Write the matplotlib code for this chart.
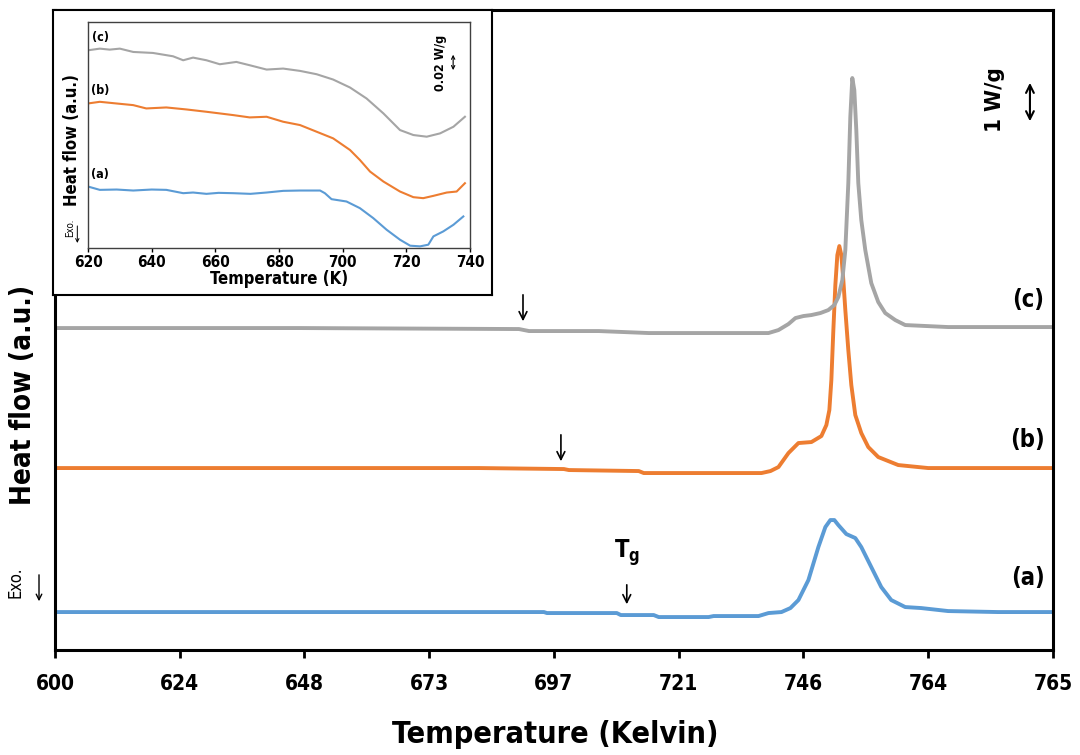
import numpy as np
import matplotlib
matplotlib.use('Agg')
import matplotlib.pyplot as plt

plt.rcParams['font.family'] = ['DejaVu Sans']
plt.rcParams['font.stretch'] = 'condensed'

# main curves (x: position along the tick scale, y: heat flow in arbitrary units)
tick_labels = ['600', '624', '648', '673', '697', '721', '746', '764', '765']

xa = [0, 490, 493, 563, 567, 600, 605, 655, 660, 705, 715, 728, 737, 745, 755, 765, 772, 777,
      781, 785, 793, 802, 808, 818, 828, 838, 852, 868, 895, 945, 998]
ya = [38, 38, 37, 37, 35, 35, 33, 33, 34, 34, 37, 38, 42, 50, 70, 103, 123, 130,
      130, 125, 116, 112, 103, 83, 63, 50, 43, 42, 39, 38, 38]

xb = [0, 425, 510, 515, 585, 590, 708, 717, 725, 735, 745, 758, 768, 773, 776, 778, 780, 782,
      784, 786, 788, 790, 792, 795, 798, 802, 808, 815, 825, 845, 875, 998]
yb = [182, 182, 181, 180, 179, 177, 177, 179, 183, 197, 207, 208, 214, 225, 240, 270, 320, 365,
      395, 404, 395, 370, 340, 300, 265, 235, 217, 203, 193, 185, 182, 182]

xc = [0, 245, 465, 475, 545, 595, 715, 725, 735, 742, 750, 758, 767, 775, 781, 785, 789, 792,
      795, 797, 799, 801, 803, 805, 808, 812, 818, 825, 832, 842, 852, 895, 998]
yc = [322, 322, 321, 319, 319, 317, 317, 320, 326, 332, 334, 335, 337, 340, 345, 353, 370, 400,
      467, 533, 572, 560, 520, 467, 430, 400, 367, 348, 337, 330, 325, 323, 323]

# inset curves (x: Temperature (K))
ia_x = [620, 623.7, 629, 634.2, 640, 644.6, 649.9, 653, 657.2, 661, 665.6, 671, 676.1, 681.3,
        686.6, 692.9, 694.4, 696.5, 701.2, 705.4, 709.6, 713.8, 718.0, 721.2, 724.3, 726.9,
        728.5, 731.6, 734.8, 737.9]
ia_y = [185, 175, 176, 173, 176, 175, 165, 167, 163, 166, 165, 163, 167, 172,
        173, 173, 165, 147, 140, 120, 90, 55, 25, 7, 5, 10,
        35, 50, 70, 95]

ib_x = [620, 623.7, 628.9, 634.2, 638.3, 644.6, 650.9, 657.2, 665.6, 670.8, 676.1, 681.3,
        686.6, 691.8, 697.0, 702.3, 705.4, 708.6, 712.8, 718.0, 722.2, 725.3, 728.5, 732.7,
        735.8, 738.4]
ib_y = [435, 440, 435, 430, 420, 423, 417, 410, 400, 393, 395, 380,
        370, 350, 330, 295, 265, 230, 200, 170, 153, 150, 157, 167,
        170, 195]

ic_x = [620, 623.7, 626.8, 630.0, 634.2, 640.4, 646.7, 649.9, 653.0, 657.2, 661.4, 666.6,
        670.8, 676.1, 681.3, 686.6, 691.8, 697.0, 702.3, 707.5, 712.8, 718.0, 722.2, 726.4,
        730.6, 734.8, 738.4]
ic_y = [595, 600, 597, 600, 590, 587, 577, 565, 573, 565, 553, 560,
        550, 537, 540, 533, 523, 507, 483, 450, 405, 355, 340, 335,
        345, 365, 395]

blue = '#5B9BD5'
orange = '#ED7D31'
grey = '#A5A5A5'

fig = plt.figure(figsize=(10.8, 7.55), dpi=100)
ax = fig.add_axes([0.0509, 0.139, 0.924, 0.8477])

ax.plot(xa, ya, color=blue, lw=2.8)
ax.plot(xb, yb, color=orange, lw=2.8)
ax.plot(xc, yc, color=grey, lw=2.8)

ax.set_xlim(0, 1000)
ax.set_ylim(0, 640)
ax.set_xticks(np.linspace(0, 1000, 9))
ax.set_xticklabels(tick_labels, fontsize=15, fontweight='bold')
ax.set_yticks([])
ax.tick_params(axis='x', direction='out', length=6, width=2, pad=11)
for s in ax.spines.values():
    s.set_linewidth(2.2)

# curve labels
for lab, yy in [('(c)', 350), ('(b)', 210), ('(a)', 72)]:
    ax.text(975, yy, lab, fontsize=17, fontweight='bold', ha='center', va='center')

# Tg arrows
arr = dict(arrowstyle='->', color='black', lw=1.2, mutation_scale=14)
ax.annotate('', xy=(469, 326), xytext=(469, 358), arrowprops=arr)
ax.annotate('', xy=(507, 186), xytext=(507, 218), arrowprops=arr)
ax.annotate('', xy=(573, 43), xytext=(573, 68), arrowprops=arr)
ax.text(573, 97, r'T$_\mathregular{g}$', fontsize=17, fontweight='bold', ha='center', va='center')

# scale bar
ax.text(942, 550, '1 W/g', fontsize=16, fontweight='bold', rotation=90, ha='center', va='center')
ax.annotate('', xy=(977, 570), xytext=(977, 526),
            arrowprops=dict(arrowstyle='<->', color='black', lw=1.5, mutation_scale=14))

# Exo. marker
ax.text(-40, 68, 'Exo.', fontsize=12, rotation=90, ha='center', va='center', clip_on=False)
ax.annotate('', xy=(-16, 46), xytext=(-16, 78), annotation_clip=False,
            arrowprops=dict(arrowstyle='->', color='black', lw=1.0, mutation_scale=10))

fig.text(0.021, 0.477, 'Heat flow (a.u.)', fontsize=20, fontweight='bold', rotation=90,
         ha='center', va='center')
fig.text(0.514, 0.027, 'Temperature (Kelvin)', fontsize=22, fontweight='bold',
         ha='center', va='center')

# inset frame
frame = fig.add_axes([0.049, 0.609, 0.4065, 0.3775])
frame.set_xticks([])
frame.set_yticks([])
frame.set_facecolor('white')
for s in frame.spines.values():
    s.set_linewidth(1.5)

ins = fig.add_axes([0.0815, 0.6715, 0.3537, 0.2993])
ins.plot(ia_x, ia_y, color=blue, lw=1.5)
ins.plot(ib_x, ib_y, color=orange, lw=1.5)
ins.plot(ic_x, ic_y, color=grey, lw=1.5)
ins.set_xlim(620, 740)
ins.set_ylim(0, 680)
ins.set_xticks(np.arange(620, 741, 20))
ins.set_xticklabels([str(t) for t in range(620, 741, 20)], fontsize=11, fontweight='bold')
ins.set_yticks([])
ins.tick_params(axis='x', direction='out', length=3, width=1, pad=2)
ins.set_xlabel('Temperature (K)', fontsize=12, fontweight='bold', labelpad=0)
for s in ins.spines.values():
    s.set_linewidth(1.0)
    s.set_color('#404040')

ins.text(-0.042, 0.478, 'Heat flow (a.u.)', transform=ins.transAxes, fontsize=12,
         fontweight='bold', rotation=90, ha='center', va='center')
ins.text(-0.048, 0.09, 'Exo.', transform=ins.transAxes, fontsize=7, rotation=90,
         ha='center', va='center')
ins.annotate('', xy=(-0.028, 0.01), xytext=(-0.028, 0.11), xycoords='axes fraction',
             annotation_clip=False,
             arrowprops=dict(arrowstyle='->', color='black', lw=0.7, mutation_scale=6))

for lab, yy in [('(c)', 634), ('(b)', 475), ('(a)', 220)]:
    ins.text(623.8, yy, lab, fontsize=9, fontweight='bold', ha='center', va='center')

ins.text(730.6, 556, '0.02 W/g', fontsize=9, fontweight='bold', rotation=90,
         ha='center', va='center')
ins.annotate('', xy=(734.7, 590), xytext=(734.7, 527),
             arrowprops=dict(arrowstyle='<->', color='black', lw=0.8, mutation_scale=6))

fig.savefig('out.png', dpi=100)
